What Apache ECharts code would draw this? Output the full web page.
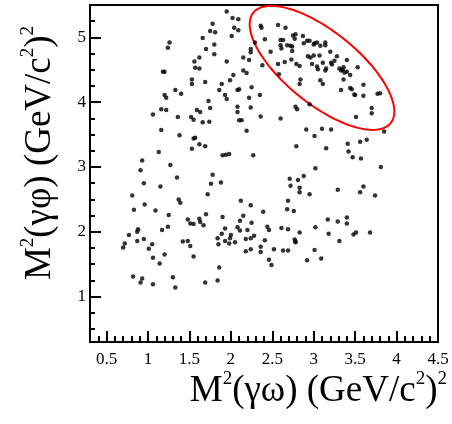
<!DOCTYPE html>
<html>
<head>
<meta charset="utf-8">
<script src="https://cdn.jsdelivr.net/npm/echarts@6/dist/echarts.min.js"></script>
<style>
  html, body { margin: 0; padding: 0; background: #fff; }
  #chart { width: 452px; height: 424px; }
</style>
</head>
<body>
<div id="chart"></div>
<script>
// [M2(gamma omega), M2(gamma phi)] pairs, by region
const topLeft = [
  [1.95,5.40],[2.02,5.30],[2.09,5.28],[2.04,5.15],[2.09,5.11],[1.78,5.21],[1.75,5.10],[1.81,5.08],[1.66,4.99],[2.01,5.02],
  [2.36,5.18],[2.37,5.15],[2.41,4.97],[2.29,4.92],[2.48,4.78],[2.38,4.57],[2.24,4.82],[2.24,4.77],[2.15,4.69],[2.22,4.65],
  [1.95,4.63],[1.80,4.89],[1.70,4.82],[1.80,4.74],[1.62,4.69],[1.56,4.63],[1.57,4.53],[1.62,4.52],[1.26,4.92],[1.24,4.84],
  [1.18,4.47],[1.20,4.47],[1.33,4.19],[1.40,4.13],[1.20,4.11],[1.22,4.07],[1.53,4.35],[1.53,4.28],[1.69,4.31],[1.89,4.28],
  [1.86,4.19],[1.93,4.11],[1.95,4.05],[1.99,4.34],[2.03,4.42],[2.15,4.49],[2.19,4.45],[2.08,4.19],[2.10,4.20],[2.25,4.23],
  [2.35,4.11],[2.22,4.07],[2.24,3.92],[2.36,3.78],[2.08,3.93],[2.08,3.85],[2.10,3.72],[2.13,3.72],[2.19,3.56],[2.27,3.18],
  [1.73,4.02],[1.75,3.91],[1.59,3.88],[1.63,3.85],[1.52,3.77],[1.55,3.73],[1.66,3.69],[1.74,3.70],[1.36,3.77],[1.16,3.89],
  [1.22,3.88],[1.06,3.81],[1.16,3.57],[1.38,3.49],[1.55,3.44],[1.57,3.45],[1.53,3.28],[1.62,3.35],[1.69,3.32],[1.90,3.18],
  [1.94,3.19],[1.98,3.20],[1.13,3.23],[0.93,3.10],[0.91,2.95],[1.27,3.03],[1.35,2.84],[1.78,2.88]
];
const topRight = [
  [2.57,5.19],[2.66,5.15],[2.60,4.96],[2.63,4.96],[2.60,4.88],[2.61,4.83],[2.68,4.88],[2.72,4.87],[2.74,4.86],[2.75,5.03],
  [2.78,5.05],[2.77,4.98],[2.74,4.79],[2.87,5.02],[2.88,4.91],[2.92,4.95],[2.95,4.95],[3.00,4.89],[3.01,4.91],[3.04,4.92],
  [3.08,4.87],[3.14,4.92],[3.14,4.88],[2.93,4.71],[2.96,4.69],[3.00,4.72],[3.07,4.72],[3.20,4.78],[2.57,4.59],[2.65,4.62],
  [2.73,4.66],[2.79,4.59],[2.83,4.56],[2.98,4.59],[3.04,4.55],[3.05,4.51],[3.11,4.61],[3.15,4.52],[3.14,4.49],[3.21,4.61],
  [3.22,4.58],[3.25,4.64],[3.28,4.71],[3.40,4.65],[3.31,4.52],[3.33,4.49],[3.35,4.50],[3.36,4.54],[3.37,4.46],[3.40,4.47],
  [3.44,4.42],[3.36,4.35],[3.53,4.54],[2.58,4.43],[2.84,4.35],[2.83,4.28],[3.08,4.34],[3.11,4.28],[3.33,4.19],[3.44,4.22],
  [3.46,4.20],[3.49,4.12],[3.50,4.11],[3.60,4.27],[3.60,4.10],[3.77,4.13],[3.80,4.14],[3.70,3.91],[3.70,3.83],[3.51,3.77],
  [2.78,3.93],[2.80,3.89],[2.95,3.97],[2.60,3.75],[2.91,3.58],[3.01,3.48],[3.10,3.59],[3.21,3.58],[2.79,3.32],[3.15,3.29],
  [3.41,3.36],[3.42,3.24],[3.47,3.15],[3.57,3.13],[3.56,3.39],[3.64,3.42],[3.85,3.55],[3.81,3.00],[3.02,2.98]
];
const bottomRight = [
  [2.71,2.82],[2.81,2.80],[2.88,2.86],[2.72,2.71],[2.83,2.68],[2.83,2.61],[2.95,2.58],[2.69,2.48],[2.68,2.35],[2.76,2.32],
  [3.29,2.65],[3.56,2.61],[3.60,2.70],[3.74,2.56],[2.44,2.08],[2.46,2.03],[2.61,2.06],[2.69,2.04],[2.83,1.99],[3.02,2.07],
  [3.17,2.19],[3.29,2.16],[3.40,2.22],[3.40,2.13],[3.18,1.97],[3.51,1.99],[3.48,1.96],[3.68,1.99],[2.41,1.87],[2.77,1.88],
  [2.78,1.85],[2.78,1.84],[2.52,1.73],[2.63,1.71],[2.69,1.71],[3.01,1.72],[2.46,1.57],[2.49,1.49],[2.92,1.56],[3.09,1.59],
  [3.31,1.86]
];
const bottomLeft = [
  [1.76,2.74],[1.88,2.76],[0.95,2.75],[1.15,2.70],[0.81,2.56],[1.72,2.58],[0.83,2.34],[0.96,2.42],[1.09,2.33],[1.37,2.50],
  [1.39,2.45],[1.25,2.26],[1.70,2.27],[1.90,2.23],[1.48,2.19],[1.51,2.13],[1.55,2.12],[1.62,2.20],[1.63,2.15],[1.67,2.10],
  [1.17,2.03],[1.24,2.08],[0.88,2.04],[0.87,2.00],[0.77,1.95],[0.87,1.86],[0.95,1.89],[0.72,1.82],[0.70,1.76],[1.01,1.74],
  [1.05,1.81],[1.06,1.60],[1.20,1.65],[1.14,1.51],[1.42,1.85],[1.48,1.86],[1.51,1.78],[1.55,1.62],[1.84,1.90],[1.89,1.97],
  [1.85,1.81],[1.93,2.05],[1.93,1.86],[1.99,1.90],[1.98,1.82],[2.00,1.95],[2.05,1.84],[2.08,2.07],[2.11,2.17],[2.15,2.25],
  [2.12,2.48],[2.24,2.41],[2.11,2.02],[2.20,2.03],[2.18,1.89],[2.25,2.14],[2.24,1.90],[2.28,1.94],[2.18,1.70],[2.24,1.73],
  [2.36,1.77],[2.36,1.69],[2.39,2.31],[0.82,1.31],[0.93,1.28],[0.91,1.22],[1.06,1.19],[1.30,1.30],[1.33,1.14],[1.69,1.22],
  [1.86,1.45],[1.84,1.25]
];

const xMajor = [0.5, 1, 1.5, 2, 2.5, 3, 3.5, 4, 4.5];
const yMajor = [1, 2, 3, 4, 5];

// red ellipse: centre and the two half-axis vectors, in data units
const ellipse = { cx: 3.10, cy: 4.53, ax: 0.83, ay: -0.85, bx: -0.27, by: -0.44 };

function minorTicks(lo, hi, step, major) {
  const out = [];
  for (let v = lo; v <= hi + 1e-9; v += step) {
    const r = Math.round(v * 100) / 100;
    if (major.indexOf(r) < 0) out.push(r);
  }
  return out;
}
const xMinor = minorTicks(0.3, 4.5, 0.1, xMajor);
const yMinor = minorTicks(0.5, 5.25, 0.25, yMajor);

const serif = "'Liberation Serif', 'DejaVu Serif', serif";
const titleRich = {
  m: { fontFamily: serif, fontSize: 37, lineHeight: 42, color: "#000" },
  s: { fontFamily: serif, fontSize: 19, lineHeight: 19, color: "#000", verticalAlign: "top" },
};

function frameLine() {
  return { show: true, onZero: false, lineStyle: { color: "#000", width: 2 } };
}

const chart = echarts.init(document.getElementById("chart"));

chart.setOption({
  animation: false,
  grid: {
    left: 90, right: 14, top: 5, bottom: 82,
    show: true, borderColor: "#000", borderWidth: 2,
  },
  xAxis: [
    {
      type: "value", min: 0.3, max: 4.5, position: "bottom",
      axisLine: frameLine(),
      axisTick: { show: true, inside: true, length: 11, customValues: xMajor,
        lineStyle: { color: "#000", width: 2 } },
      axisLabel: { customValues: xMajor, color: "#000", fontFamily: serif, fontSize: 17, margin: 9,
        formatter: (v) => String(v) },
      splitLine: { show: false },
    },
    {
      type: "value", min: 0.3, max: 4.5, position: "bottom",
      axisLine: { show: false },
      axisTick: { show: true, inside: true, length: 6, customValues: xMinor,
        lineStyle: { color: "#000", width: 2 } },
      axisLabel: { show: false },
      splitLine: { show: false },
    },
  ],
  yAxis: [
    {
      type: "value", min: 0.3, max: 5.5, position: "left",
      axisLine: frameLine(),
      axisTick: { show: true, inside: true, length: 11, customValues: yMajor,
        lineStyle: { color: "#000", width: 2 } },
      axisLabel: { customValues: yMajor, color: "#000", fontFamily: serif, fontSize: 17, margin: 4,
        formatter: (v) => String(v) },
      splitLine: { show: false },
    },
    {
      type: "value", min: 0.3, max: 5.5, position: "left",
      axisLine: { show: false },
      axisTick: { show: true, inside: true, length: 5, customValues: yMinor,
        lineStyle: { color: "#000", width: 2 } },
      axisLabel: { show: false },
      splitLine: { show: false },
    },
  ],
  graphic: [
    {
      type: "text", x: 447, y: 370,
      style: {
        text: "{m|M}{s|2}{m|(γω) (GeV/c}{s|2}{m|)}{s|2}",
        rich: titleRich, align: "right", verticalAlign: "top",
      },
    },
    {
      type: "text", x: 40, y: 153, rotation: Math.PI / 2,
      style: {
        text: "{m|M}{s|2}{m|(γφ) (GeV/c}{s|2}{m|)}{s|2}",
        rich: titleRich, align: "center", verticalAlign: "middle",
      },
    },
  ],
  series: [
    {
      type: "scatter",
      symbol: "circle",
      symbolSize: 4.5,
      itemStyle: { color: "#000" },
      data: [].concat(topLeft, topRight, bottomRight, bottomLeft),
      silent: true,
    },
    {
      type: "custom",
      data: [[ellipse.cx, ellipse.cy]],
      silent: true,
      renderItem: function (params, api) {
        const pts = [];
        for (let i = 0; i <= 120; i++) {
          const t = (i / 120) * 2 * Math.PI;
          pts.push(api.coord([
            ellipse.cx + ellipse.ax * Math.cos(t) + ellipse.bx * Math.sin(t),
            ellipse.cy + ellipse.ay * Math.cos(t) + ellipse.by * Math.sin(t),
          ]));
        }
        return {
          type: "polyline",
          shape: { points: pts },
          style: { stroke: "#ff0000", lineWidth: 2, fill: null },
        };
      },
    },
  ],
});
</script>
</body>
</html>
